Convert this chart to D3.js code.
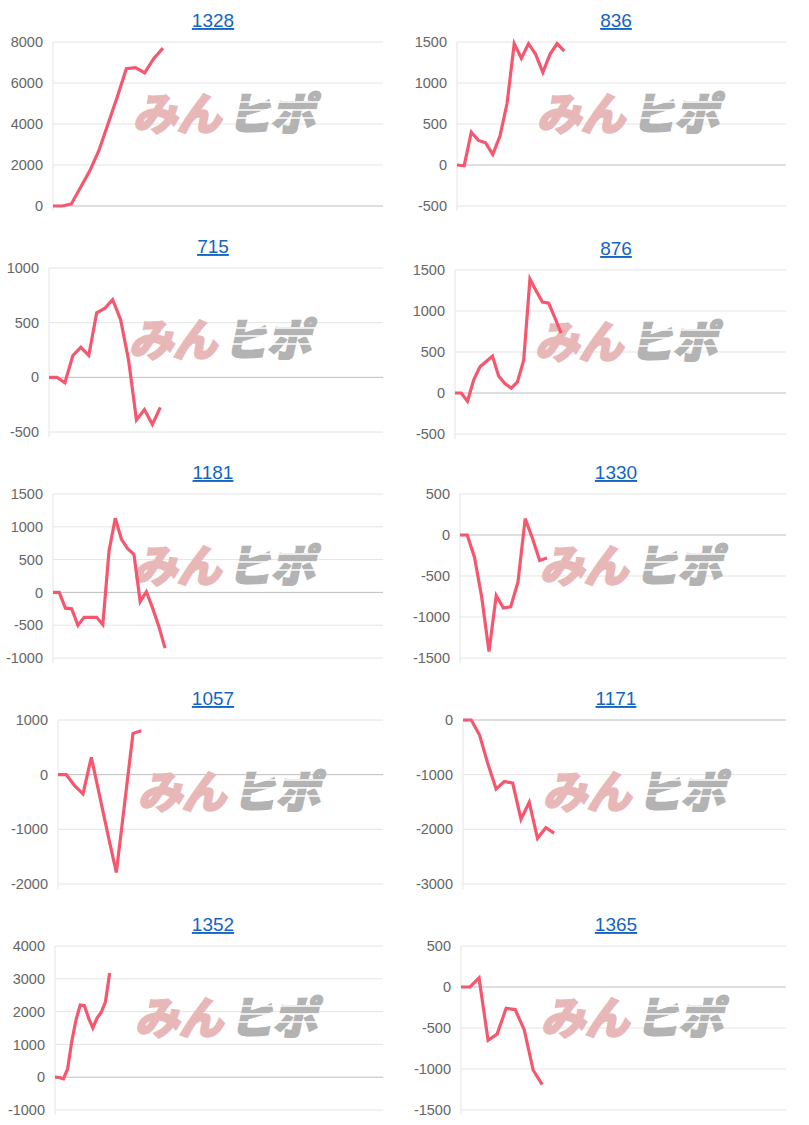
<!DOCTYPE html>
<html><head><meta charset="utf-8">
<script src="https://cdn.jsdelivr.net/npm/d3@7"></script>
<style>body{margin:0;background:#fff;}svg{display:block}</style>
</head><body>
<svg id="c" width="809" height="1125"></svg>
<script>
const titles = ["1328","836","715","876","1181","1330","1057","1171","1352","1365"];
const s1328 = [0,0,100,900,1700,2700,4000,5300,6700,6750,6500,7200,7700];
const s836  = [0,-10,400,300,270,130,350,750,1480,1300,1480,1350,1130,1350,1480,1390];
const s715  = [0,0,-50,200,275,200,590,630,710,530,160,-390,-295,-430,-275];
const s876  = [0,0,-100,160,320,385,450,205,115,60,135,400,1390,1245,1110,1095,915,730];
const s1181 = [0,0,-240,-250,-500,-380,-380,-380,-490,630,1130,810,665,580,-140,10,-240,-520,-850];
const s1330 = [0,0,-270,-760,-1420,-740,-890,-875,-575,200,-40,-310,-280];
const s1057 = [0,0,-200,-350,317,-390,-1100,-1790,-520,756,805];
const s1171 = [0,0,-275,-800,-1260,-1125,-1155,-1815,-1505,-2165,-1970,-2070];
const s1352 = [0,-10,-50,250,1100,1750,2200,2180,1800,1500,1800,1980,2300,3180];
const s1365 = [0,0,110,-650,-575,-260,-275,-520,-1015,-1190];
const series = [s1328,s836,s715,s876,s1181,s1330,s1057,s1171,s1352,s1365];
// y-axis ranges [min, max, step]
const yRanges = [[0,8000,2000],[-500,1500,500],[-500,1000,500],[-500,1500,500],[-1000,1500,500],
                 [-1500,500,500],[-2000,1000,1000],[-3000,0,1000],[-1000,4000,1000],[-1500,500,500]];
// number of x slots spanning each plot
const xSlots = [36,46,42,53,53,45,39,39,78,36];

// layout
const plotLefts = [53,457,49,455,53,460,58,463,55,461];
const plotRights = [383,786];
const plotTops = [42,268,494,720,946];
const plotH = 164;

const svg = d3.select("#c");
const font = "'Liberation Sans', Arial, sans-serif";
const skew = Math.tan(12*Math.PI/180);

series.forEach((data,i)=>{
  const col = i%2, row = Math.floor(i/2);
  const L = plotLefts[i], R = plotRights[col], T = plotTops[row] + (col===1 && row===1 ? 2 : 0), B = T + plotH;
  const [ymin,ymax,step] = yRanges[i];
  const x = d3.scaleLinear().domain([0,xSlots[i]]).range([L,R]);
  const y = d3.scaleLinear().domain([ymin,ymax]).range([B,T]);
  const ticks = d3.range(ymin, ymax+step/2, step);
  const g = svg.append("g");

  const cx = col===0 ? 213 : 616;
  g.append("text").attr("x",cx).attr("y",T-15).attr("text-anchor","middle")
    .attr("font-family",font).attr("font-size",19).attr("fill","#1565c0")
    .attr("text-decoration","underline").text(titles[i]);

  g.selectAll("line.grid").data(ticks).join("line")
    .attr("x1",L).attr("x2",R).attr("y1",d=>y(d)).attr("y2",d=>y(d))
    .attr("stroke",d=>d===0?"#bdbdbd":"#e4e4e4").attr("stroke-width",1);
  g.append("line").attr("x1",L).attr("x2",L).attr("y1",T).attr("y2",B+5).attr("stroke","#e4e4e4");

  const ax = g.append("g").attr("transform",`translate(${L-4},0)`)
    .call(d3.axisLeft(y).tickValues(ticks).tickSize(0).tickPadding(6).tickFormat(d=>String(d)));
  ax.select(".domain").remove();
  ax.selectAll("text").attr("font-family",font).attr("font-size",14.5).attr("fill","#666");

  // watermark
  const wx = L+80, wy = T+88;
  const tf = `translate(${wy*skew},0) skewX(-12)`;
  g.append("text").attr("x",wx).attr("y",wy).attr("font-family","'Noto Sans CJK JP', sans-serif")
    .attr("font-weight",700).attr("font-size",44).attr("transform",tf)
    .attr("fill","#e8b8b8").attr("stroke","#e8b8b8").attr("stroke-width",3).text("みん");
  g.append("text").attr("x",wx+94).attr("y",wy).attr("font-family","'Noto Sans CJK JP', sans-serif")
    .attr("font-weight",700).attr("font-size",44).attr("transform",tf)
    .attr("fill","#b3b3b3").attr("stroke","#b3b3b3").attr("stroke-width",3).text("ヒポ");
  [-28,-20,-12].forEach(dy=>{
    g.append("line").attr("x1",wx+92).attr("x2",wx+205).attr("y1",wy+dy).attr("y2",wy+dy)
      .attr("stroke","#fff").attr("stroke-width",1.5);
  });

  g.append("path").datum(data)
    .attr("d",d3.line().x((d,k)=>x(k)).y(d=>y(d)))
    .attr("fill","none").attr("stroke","#f5576f").attr("stroke-width",3.2)
    .attr("stroke-linejoin","miter");
});
</script>
</body></html>
